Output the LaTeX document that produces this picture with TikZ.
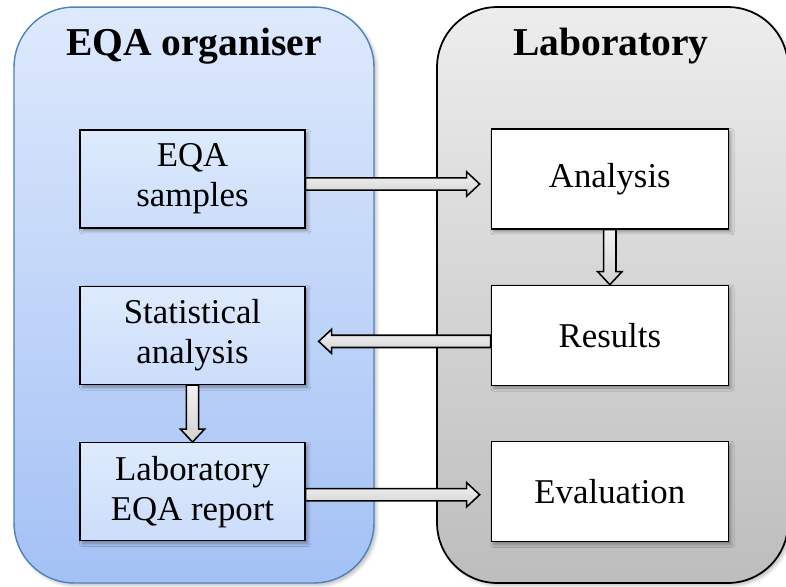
\documentclass[tikz,border=0pt]{standalone}
\usepackage{fontspec}
\setmainfont{Liberation Serif}
\usetikzlibrary{positioning, calc, shadows.blur}
\definecolor{orgtop}{RGB}{222,233,252}
\definecolor{orgbottom}{RGB}{163,193,245}
\definecolor{orgedge}{RGB}{79,129,189}
\definecolor{boxtop}{RGB}{222,235,252}
\definecolor{boxbottom}{RGB}{204,221,251}
\definecolor{labtop}{RGB}{237,237,237}
\definecolor{labbottom}{RGB}{189,189,189}
\tikzset{
    panel/.style={
        rectangle,
        rounded corners=1.2cm,
        minimum height=11.52cm,
        blur shadow={shadow xshift=1.5pt, shadow yshift=-1.5pt, shadow opacity=25}
    },
    orgpanel/.style={
        panel,
        draw=orgedge,
        line width=0.8pt,
        top color=orgtop,
        bottom color=orgbottom,
        minimum width=7.2cm
    },
    labpanel/.style={
        panel,
        draw=black,
        line width=1pt,
        top color=labtop,
        bottom color=labbottom,
        minimum width=7.02cm
    },
    title/.style={
        anchor=base,
        font=\fontsize{22.5}{27}\selectfont\bfseries
    },
    orgbox/.style={
        rectangle,
        draw=black,
        thick,
        minimum width=4.5cm,
        minimum height=1.96cm,
        align=center,
        top color=boxtop,
        bottom color=boxbottom,
        font=\fontsize{19.8}{22.8}\selectfont,
        blur shadow={shadow xshift=1.5pt, shadow yshift=-1.5pt, shadow opacity=35}
    },
    labbox/.style={
        orgbox,
        fill=white,
        top color=white,
        bottom color=white,
        minimum width=4.74cm,
        minimum height=2cm
    },
    blockarrow/.style={
        draw=black,
        line width=0.9pt,
        top color=gray!10,
        bottom color=gray!35,
        to path={
            let \p1=(\tikztostart), \p2=(\tikztotarget),
                \n1={atan2(\y2-\y1,\x2-\x1)},
                \n2={veclen(\x2-\x1,\y2-\y1)} in
            ([shift={(\p1)},rotate=\n1]0pt,-3.5pt)
            -- ([shift={(\p1)},rotate=\n1]\n2-7.4pt,-3.5pt)
            -- ([shift={(\p1)},rotate=\n1]\n2-7.4pt,-6.9pt)
            -- ([shift={(\p1)},rotate=\n1]\n2,0pt)
            -- ([shift={(\p1)},rotate=\n1]\n2-7.4pt,6.9pt)
            -- ([shift={(\p1)},rotate=\n1]\n2-7.4pt,3.5pt)
            -- ([shift={(\p1)},rotate=\n1]0pt,3.5pt)
            -- cycle
        }
    },
}

\begin{document}
\begin{tikzpicture}[x=0.02cm, y=-0.02cm]
\useasboundingbox (0,0) rectangle (786,586);

% Panels
\node[orgpanel] (org) at (194,295) {};
\node[labpanel] (lab) at (612.5,295) {};
\node[title] (orgtitle) at (194,55) {EQA organiser};
\node[title] (labtitle) at (611,55) {Laboratory};

% EQA organiser side
\node[orgbox] (samples) at (192.5,179) {EQA\\samples};
\node[orgbox, below=1.14cm of samples] (stat) {Statistical\\analysis};
\node[orgbox, below=1.14cm of stat] (report) {Laboratory\\EQA report};

% Laboratory side
\node[labbox, right=3.7cm of samples] (analysis) {Analysis};
\node[labbox, below=1.1cm of analysis] (results) {Results};
\node[labbox, below=1.1cm of results] (evaluation) {Evaluation};

% Arrows
\draw[blockarrow] ([yshift=-0.1cm]samples.east) to ([shift={(-0.22cm,-0.1cm)}]analysis.west);
\draw[blockarrow] (analysis.south) to (results.north);
\draw[blockarrow] ([yshift=-0.12cm]results.west) to ([shift={(0.26cm,-0.12cm)}]stat.east);
\draw[blockarrow] (stat.south) to (report.north);
\draw[blockarrow] ([yshift=-0.06cm]report.east) to ([shift={(-0.22cm,-0.06cm)}]evaluation.west);

\end{tikzpicture}
\end{document}
